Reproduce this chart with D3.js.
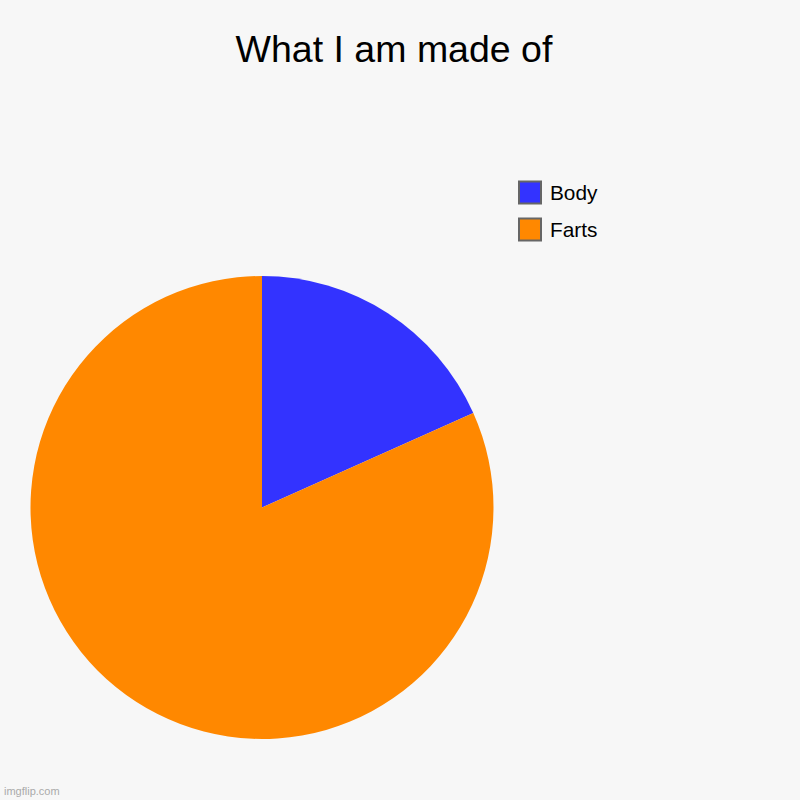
<!DOCTYPE html>
<html><head><meta charset="utf-8">
<script src="https://cdn.jsdelivr.net/npm/d3@7"></script>
<style>html,body{margin:0;padding:0;background:#f7f7f7;}</style>
</head><body>
<script>
const title = "What I am made of";
const categories = ["Body", "Farts"];
const values = [18.3, 81.7];
const colors = ["#3333ff", "#ff8800"];

const W = 800, H = 800;
const svg = d3.select("body").append("svg").attr("width", W).attr("height", H)
  .style("display","block").style("background","#f7f7f7");
svg.append("rect").attr("width",W).attr("height",H).attr("fill","#f7f7f7");

const font = "Liberation Sans, Arial, Helvetica, sans-serif";
svg.append("text").attr("x", 394).attr("y", 61.5).attr("text-anchor","middle")
  .attr("font-family", font).attr("font-size", 37.5).attr("fill","#000").text(title);

const data = categories.map((c,i)=>({cat:c, v:values[i], color:colors[i]}));
const pie = d3.pie().value(d=>d.v).sort(null);
const arc = d3.arc().innerRadius(0).outerRadius(231.5);
const g = svg.append("g").attr("transform","translate(262,507.5)");
g.selectAll("path").data(pie(data)).join("path").attr("d", arc).attr("fill", d=>d.data.color);

const color = d3.scaleOrdinal().domain(categories).range(colors);
const leg = svg.append("g").attr("transform","translate(519,181.5)");
const items = leg.selectAll("g").data(categories).join("g").attr("transform",(d,i)=>`translate(0,${i*37})`);
items.append("rect").attr("width",22).attr("height",22).attr("fill",d=>color(d))
  .attr("stroke","#666").attr("stroke-width",2);
items.append("text").attr("x",31).attr("y",18.5).attr("font-family",font).attr("font-size",20.8)
  .attr("fill","#000").text(d=>d);

svg.append("text").attr("x",4).attr("y",795).attr("font-family",font).attr("font-size",11)
  .attr("fill","#aaa").text("imgflip.com");
</script>
</body></html>
